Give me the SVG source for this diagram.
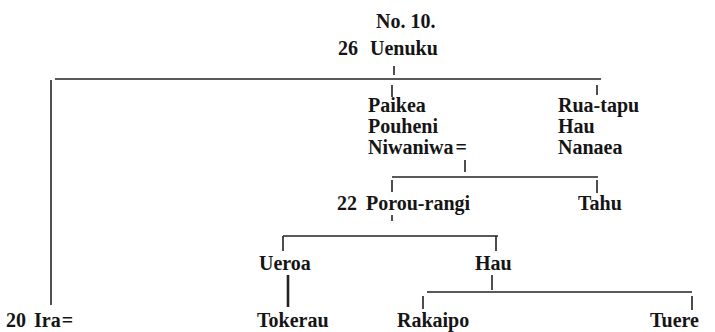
<svg xmlns="http://www.w3.org/2000/svg" width="715" height="332" viewBox="0 0 715 332">
<style>
text{font-family:"Liberation Serif","Times New Roman",serif;font-size:20px;font-weight:bold;fill:#151515;}
.l{stroke:#222;stroke-width:1.4;fill:none;}
.t{stroke:#222;stroke-width:1.6;fill:none;}
</style>
<rect width="715" height="332" fill="#fff"/>
<g id="title"><text x="376" y="28">No. 10.</text></g>
<g id="uenuku"><text x="338" y="55">26<tspan x="370">Uenuku</tspan></text></g>
<g id="paikea"><text x="368" y="112">Paikea</text><text x="368" y="133">Pouheni</text><text x="368" y="154">Niwaniwa<tspan dx="2">=</tspan></text></g>
<g id="ruatapu"><text x="558" y="112">Rua-tapu</text><text x="558" y="133">Hau</text><text x="558" y="154">Nanaea</text></g>
<g id="porou"><text x="337" y="210">22<tspan x="366">Porou-rangi</tspan></text></g>
<g id="tahu"><text x="578" y="210">Tahu</text></g>
<g id="ueroa"><text x="259" y="270">Ueroa</text></g>
<g id="hau"><text x="475" y="270">Hau</text></g>
<g id="ira"><text x="6" y="327">20<tspan x="34">Ira<tspan dx="1">=</tspan></tspan></text></g>
<g id="tokerau"><text x="257" y="327">Tokerau</text></g>
<g id="rakaipo"><text x="397" y="327">Rakaipo</text></g>
<g id="tuere"><text x="650" y="327">Tuere</text></g>
<g id="connectors">
<path class="t" d="M394 66V75"/>
<path class="l" d="M55 79H601"/>
<path class="t" d="M51 80V305"/>
<path class="t" d="M392 85V97M597 85V95"/>
<path class="t" d="M465 160V172"/>
<path class="l" d="M392 177H598"/>
<path class="t" d="M392 180V192M597 180V193"/>
<path class="t" d="M392 215V221"/>
<path class="l" d="M283 236H498"/>
<path class="t" d="M283 236V251M496 236V251"/>
<path d="M288 275V307" stroke="#222" stroke-width="2.6"/>
<path class="t" d="M492 275V290"/>
<path class="l" d="M427 292H692"/>
<path class="t" d="M423 296V309M692 296V310"/>
</g>
</svg>
